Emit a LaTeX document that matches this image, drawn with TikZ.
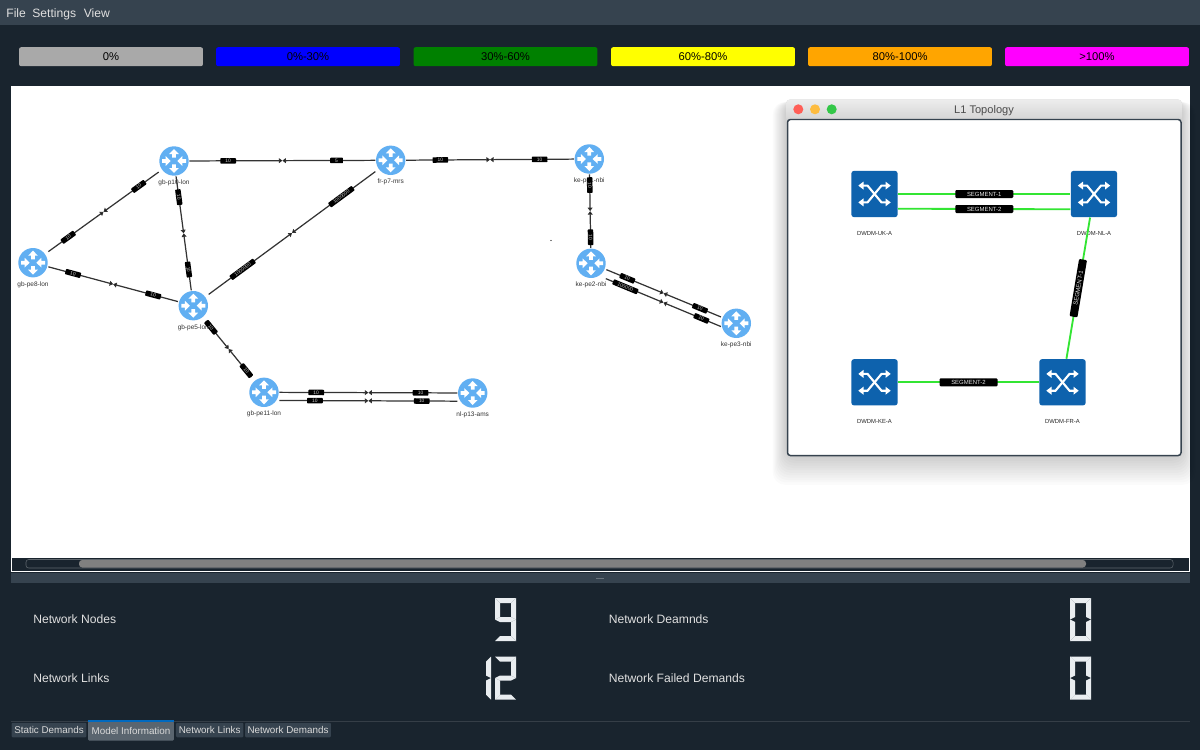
\documentclass[tikz,border=0pt]{standalone}
\usepackage{fontspec}
\setmainfont{Liberation Sans}
\usetikzlibrary{arrows.meta,calc}

\definecolor{appDark}{HTML}{19242E}
\definecolor{appBar}{HTML}{36434F}
\definecolor{routerBlue}{HTML}{61AFF2}
\definecolor{switchBlue}{HTML}{0E62AD}
\definecolor{fibreGreen}{HTML}{33E533}
\definecolor{lcdWhite}{HTML}{E9EDF0}
\definecolor{barGrey}{HTML}{A9A9A9}
\definecolor{barBlue}{HTML}{0000FF}
\definecolor{barGreen}{HTML}{008000}
\definecolor{barYellow}{HTML}{FFFF00}
\definecolor{barOrange}{HTML}{FFA500}
\definecolor{barMagenta}{HTML}{FF00FF}
\definecolor{lightRed}{HTML}{FF5F57}
\definecolor{lightAmber}{HTML}{FDBC40}
\definecolor{lightGreen}{HTML}{33C748}

\tikzset{
    uitext/.style={font=\fontsize{6.9}{8}\selectfont, text=white!88!black, inner sep=0pt},
    tabtext/.style={font=\fontsize{5.6}{7}\selectfont, text=white!85!black, fill=appBar, inner sep=0pt, rounded corners=0.6pt},
    levelbar/.style={minimum width=3.68cm, minimum height=0.38cm, inner sep=0pt, rounded corners=1.2pt, font=\fontsize{6.4}{8}\selectfont, text=black},
    routernode/.style={rectangle, minimum size=0.6cm, inner sep=0pt},
    routerlabel/.style={font=\fontsize{3.7}{4}\selectfont, text=black!80, inner sep=0pt},
    switchnode/.style={rectangle, minimum size=0.928cm, inner sep=0pt, fill=switchBlue, rounded corners=1.6pt},
    switchlabel/.style={font=\fontsize{3.35}{4}\selectfont, text=black!85, inner sep=0pt},
    linkline/.style={draw=black!80, line width=0.7pt, -{Triangle[length=2pt,width=2.8pt,fill=black]}},
    linklabel/.style={fill=black, text=white!80!black, font=\fontsize{2.8}{3}\selectfont, inner xsep=2.9pt, inner ysep=0pt, minimum height=0.11cm, rounded corners=0.4pt},
    fibre/.style={draw=fibreGreen, line width=1.05pt},
    seglabel/.style={fill=black, text=white!90!black, font=\fontsize{3.4}{4}\selectfont, minimum width=1.16cm, minimum height=0.16cm, inner sep=0pt, rounded corners=0.6pt},
    lcdseg/.style={fill=lcdWhite},
    lcdvalue/.style={text opacity=0, inner sep=0pt, font=\fontsize{24}{24}\selectfont},
    lcda/.style={insert path={(0,0) -- (21,0) -- (16,5) -- (5,5) -- cycle}},
    lcdb/.style={insert path={(21,0) -- (21,21.5) -- (16,19) -- (16,5) -- cycle}},
    lcdc/.style={insert path={(21,21.5) -- (21,43) -- (16,38) -- (16,24) -- cycle}},
    lcdd/.style={insert path={(0,43) -- (21,43) -- (16,38) -- (5,38) -- cycle}},
    lcde/.style={insert path={(0,21.5) -- (5,24) -- (5,38) -- (0,43) -- cycle}},
    lcdf/.style={insert path={(0,0) -- (5,5) -- (5,19) -- (0,21.5) -- cycle}},
    lcdg/.style={insert path={(0,21.5) -- (5,19) -- (16,19) -- (21,21.5) -- (16,24) -- (5,24) -- cycle}},
    routericon/.pic={
        \fill[routerBlue] (0,0) circle (14.7);
        \foreach \r in {0,180} {
            \fill[white,rotate=\r] (-1.9,-3.4) -- (-1.9,-7) -- (-4.9,-7) -- (0,-12) -- (4.9,-7) -- (1.9,-7) -- (1.9,-3.4) -- cycle;
        }
        \foreach \r in {90,270} {
            \fill[white,rotate=\r] (-1.9,-12) -- (-1.9,-8.4) -- (-4.9,-8.4) -- (0,-3.4) -- (4.9,-8.4) -- (1.9,-8.4) -- (1.9,-12) -- cycle;
        }
    },
    switchicon/.pic={
        \draw[white, line width=1.2pt] (-12,-8.4) -- (-7,-8.4) -- (7,8.4) -- (12,8.4);
        \draw[white, line width=1.2pt] (-12,8.4) -- (-7,8.4) -- (7,-8.4) -- (12,-8.4);
        \foreach \sx/\sy in {1/1,1/-1,-1/1,-1/-1} {
            \fill[white, xscale=\sx, yscale=\sy] (16.2,8.4) -- (11,4.4) -- (11,12.4) -- cycle;
        }
    }
}

\newcommand{\router}[4]{
    \node[routernode] (#1) at (#2,#3) {};
    \pic at (#1) {routericon};
    \node[routerlabel] (#1Label) at (#2,#3+22) {#4};
}
\newcommand{\dwdm}[4]{
    \node[switchnode] (#1) at (#2,#3) {};
    \pic at (#1) {switchicon};
    \node[switchlabel] (#1Label) at (#2,#3+39.5) {#4};
}
% one link: both halves run to the middle, a label sits on each half
\newcommand{\netlink}[5][.25]{
    \coordinate (linkMid) at ($(#2)!.5!(#3)$);
    \draw[linkline] (#2) -- (linkMid);
    \draw[linkline] (#3) -- (linkMid);
    \path ($(#2)!#1!(#3)$) -- ($(#2)!#1+.01!(#3)$) node[linklabel,pos=0,sloped] {#4};
    \path ($(#3)!#1!(#2)$) -- ($(#3)!#1+.01!(#2)$) node[linklabel,pos=0,sloped] {#5};
}
\newcommand{\lcddigit}[3]{
    \begin{scope}[shift={(#1,#2)}]
        \foreach \s in {#3} {
            \fill[lcdseg,lcd\s];
        }
    \end{scope}
}

\begin{document}
\begin{tikzpicture}[x=0.02cm,y=-0.02cm]
    \useasboundingbox (0,0) rectangle (1200,750);
    \fill[appDark] (0,0) rectangle (1200,750);

    % menu
    \fill[appBar] (0,0) rectangle (1200,25.5);
    \node[uitext,anchor=base west] (menuFile) at (6,17.7) {File};
    \node[uitext,anchor=base west] (menuSettings) at (32,17.7) {Settings};
    \node[uitext,anchor=base west] (menuView) at (83.5,17.7) {View};

    % utilisation scale
    \foreach \n/\x/\c/\t in {1/111/barGrey/0\%, 2/308/barBlue/0\%-30\%, 3/505.5/barGreen/30\%-60\%, 4/703/barYellow/60\%-80\%, 5/900/barOrange/80\%-100\%, 6/1097/barMagenta/>100\%} {
        \node[levelbar,fill=\c] (bar\n) at (\x,56.7) {\t};
    }

    % canvas and scroll bar
    \fill[white] (11,86) rectangle (1189.5,572);
    \fill[appDark] (12,557.5) rectangle (1188.5,571);
    \draw[white!30!appDark, line width=0.3pt, rounded corners=1.5pt] (26,559.5) rectangle (1173,568);
    \fill[black!50, rounded corners=1.8pt] (79,560) rectangle (1086,567.5);
    \fill[appBar] (11,573) rectangle (1189.5,583);
    \fill[white!25!appBar] (596,577.6) rectangle (604,578.4);
    \fill[black] (551,240.5) circle (0.7);

    % routers
    \router{gbpTen}{174}{161}{gb-p10-lon}
    \router{gbpeEight}{33}{262.7}{gb-pe8-lon}
    \router{gbpeFive}{193.3}{305.7}{gb-pe5-lon}
    \router{frpSeven}{390.7}{160.3}{fr-p7-mrs}
    \router{kepeOne}{589.3}{159}{ke-pe1-nbi}
    \router{kepeTwo}{591}{263.3}{ke-pe2-nbi}
    \router{kepeThree}{736.3}{323.3}{ke-pe3-nbi}
    \router{gbpeEleven}{264}{392.3}{gb-pe11-lon}
    \router{nlpThirteen}{472.7}{393}{nl-p13-ams}

    % links
    \netlink{gbpeEight}{gbpTen}{10}{10}
    \netlink{gbpeEight}{gbpeFive}{10}{10}
    \netlink{gbpTen}{gbpeFive}{10}{10}
    \netlink{gbpTen}{frpSeven}{10}{5}
    \netlink{gbpeFive}{frpSeven}{1000000}{1000000}
    \netlink{frpSeven}{kepeOne}{10}{10}
    \netlink{kepeOne}{kepeTwo}{10}{10}
    \netlink{gbpeFive}{gbpeEleven}{10}{10}
    \netlink{gbpeEleven}{nlpThirteen}{10}{10}
    \netlink[.2]{gbpeEleven.-28}{nlpThirteen.-152}{10}{10}
    \netlink{kepeTwo}{kepeThree}{10}{10}
    \netlink[.17]{kepeTwo.-46}{kepeThree.192}{100000}{10}

    % L1 window
    \foreach \g in {1,...,12} {
        \fill[black, opacity=0.016, rounded corners=7pt] (786-1.1*\g,102) rectangle (1182+1.1*\g,456+2.4*\g);
    }
    \fill[black!18, rounded corners=2.5pt] (786,99.3) rectangle (1182,125);
    \shade[top color=black!7, bottom color=black!18, rounded corners=2.5pt] (786,99.3) rectangle (1182,122);
    \draw[fill=white, draw=appBar, line width=0.85pt, rounded corners=1.6pt] (787.5,119.5) rectangle (1181,455.5);
    \fill[lightRed] (798.3,109.3) circle (5);
    \fill[lightAmber] (815,109.3) circle (5);
    \fill[lightGreen] (831.7,109.3) circle (5);
    \node[font=\fontsize{6.3}{7}\selectfont, text=black!70, inner sep=0pt] (windowTitle) at (984,110.5) {L1 Topology};

    \dwdm{dwdmUK}{874.5}{194}{DWDM-UK-A}
    \dwdm{dwdmNL}{1094}{194}{DWDM-NL-A}
    \dwdm{dwdmKE}{874.5}{382.3}{DWDM-KE-A}
    \dwdm{dwdmFR}{1062.5}{382.3}{DWDM-FR-A}

    \draw[fibre] (dwdmUK) -- node[seglabel] {SEGMENT-1} (dwdmNL);
    \draw[fibre] (dwdmUK.-32.9) -- node[seglabel] {SEGMENT-2} (dwdmNL.-147.1);
    \draw[fibre] (dwdmNL) -- node[seglabel,sloped] {SEGMENT-1} (dwdmFR);
    \draw[fibre] (dwdmKE) -- node[seglabel] {SEGMENT-2} (dwdmFR);

    % model information
    \node[uitext,anchor=west] (infoNodes) at (33,619.5) {Network Nodes};
    \node[uitext,anchor=west] (infoLinks) at (33,678) {Network Links};
    \node[uitext,anchor=west] (infoDemands) at (608.5,619.5) {Network Deamnds};
    \node[uitext,anchor=west] (infoFailed) at (608.5,678) {Network Failed Demands};

    \node[lcdvalue] (valueNodes) at (505.5,619.5) {9};
    \node[lcdvalue] (valueLinks) at (500,678) {12};
    \node[lcdvalue] (valueDemands) at (1080.5,619.5) {0};
    \node[lcdvalue] (valueFailed) at (1080.5,678) {0};
    \lcddigit{495}{598}{a,b,c,d,f,g}
    \lcddigit{470}{656.5}{b,c}
    \lcddigit{495}{656.5}{a,b,d,e,g}
    \lcddigit{1070}{598}{a,b,c,d,e,f}
    \lcddigit{1070}{656.5}{a,b,c,d,e,f}

    % tabs
    \draw[white!12!appDark, line width=0.4pt] (11,721) -- (1189.5,721);
    \node[tabtext,minimum width=1.5cm,minimum height=0.29cm] (tabStatic) at (49,730) {Static Demands};
    \node[tabtext,minimum width=1.72cm,minimum height=0.38cm,fill=white!18!appBar] (tabModel) at (131,731) {Model Information};
    \draw[blue!45!cyan!75!black, line width=0.9pt] (tabModel.north west) -- (tabModel.north east);
    \node[tabtext,minimum width=1.35cm,minimum height=0.29cm] (tabLinks) at (209.7,730) {Network Links};
    \node[tabtext,minimum width=1.72cm,minimum height=0.29cm] (tabDemands) at (288,730) {Network Demands};
\end{tikzpicture}
\end{document}
